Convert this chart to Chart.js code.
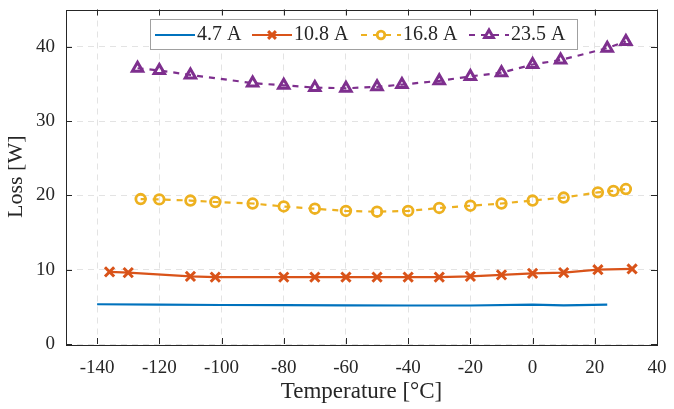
<!DOCTYPE html>
<html>
<head>
<meta charset="utf-8">
<script src="https://cdn.jsdelivr.net/npm/chart.js@4.4.0/dist/chart.umd.min.js"></script>
<style>
  html, body { margin: 0; padding: 0; background: #fff; }
</style>
</head>
<body>
<canvas id="lossChart" width="674" height="409"></canvas>
<script>
const seriesLabels = ['4.7 A', '10.8 A', '16.8 A', '23.5 A'];

const temp47 = [-140, -120, -100, -80, -60, -40, -20, 0, 10, 24];
const loss47 = [5.35, 5.3, 5.25, 5.22, 5.2, 5.18, 5.18, 5.3, 5.2, 5.3];

const temp108 = [-136, -130, -110, -102, -80, -70, -60, -50, -40, -30, -20, -10, 0, 10, 21, 32];
const loss108 = [9.7, 9.6, 9.1, 9.0, 9.0, 9.0, 9.0, 9.0, 9.0, 9.0, 9.1, 9.3, 9.5, 9.6, 10.0, 10.1];

const temp168 = [-126, -120, -110, -102, -90, -80, -70, -60, -50, -40, -30, -20, -10, 0, 10, 21, 26, 30];
const loss168 = [19.5, 19.45, 19.3, 19.1, 18.9, 18.5, 18.2, 17.9, 17.8, 17.9, 18.3, 18.6, 18.9, 19.3, 19.7, 20.4, 20.6, 20.85];

const temp235 = [-127, -120, -110, -90, -80, -70, -60, -50, -42, -30, -20, -10, 0, 9, 24, 30];
const loss235 = [37.1, 36.8, 36.2, 35.1, 34.8, 34.5, 34.4, 34.6, 34.9, 35.4, 36.0, 36.5, 37.6, 38.2, 39.8, 40.7];

const xTicks = [-140, -120, -100, -80, -60, -40, -20, 0, 20, 40];
const yTicks = [0, 10, 20, 30, 40];

const colors = ['#0072BD', '#D95319', '#EDB120', '#7E2F8E'];
const serif = "'Liberation Serif', 'DejaVu Serif', serif";
const axisColor = '#262626';

function toPoints(xs, ys) {
    return xs.map((x, i) => ({ x: x, y: ys[i] }));
}

// MATLAB-style box with inward ticks
const boxPlugin = {
    id: 'boxTicks',
    afterDatasetsDraw(chart) {
        const ctx = chart.ctx;
        const a = chart.chartArea;
        const xs = chart.scales.x, ys = chart.scales.y;
        const len = 6;
        ctx.save();
        ctx.strokeStyle = axisColor;
        ctx.lineWidth = 1;
        ctx.beginPath();
        xTicks.forEach(v => {
            const px = Math.round(xs.getPixelForValue(v)) + 0.5;
            ctx.moveTo(px, a.bottom); ctx.lineTo(px, a.bottom - len);
            ctx.moveTo(px, a.top); ctx.lineTo(px, a.top + len);
        });
        yTicks.forEach(v => {
            const py = Math.round(ys.getPixelForValue(v)) + 0.5;
            ctx.moveTo(a.left, py); ctx.lineTo(a.left + len, py);
            ctx.moveTo(a.right, py); ctx.lineTo(a.right - len, py);
        });
        ctx.stroke();
        ctx.strokeRect(Math.round(a.left) + 0.5, Math.round(a.top) + 0.5,
            Math.round(a.right - a.left), Math.round(a.bottom - a.top));
        ctx.restore();
    }
};

// legend drawn as line + marker samples, like MATLAB
const legendPlugin = {
    id: 'lineLegend',
    afterDraw(chart) {
        const ctx = chart.ctx;
        const box = { x: 150, y: 19, w: 427, h: 30 };
        ctx.save();
        ctx.fillStyle = '#fff';
        ctx.fillRect(box.x, box.y, box.w, box.h);
        ctx.strokeStyle = '#a0a0a0';
        ctx.lineWidth = 1;
        ctx.strokeRect(box.x + 0.5, box.y + 0.5, box.w, box.h);
        ctx.font = '20px ' + serif;
        ctx.textBaseline = 'middle';
        const cy = box.y + box.h / 2 + 1;
        const starts = [155, 252, 361, 469];
        chart.data.datasets.forEach((ds, i) => {
            const x0 = starts[i];
            ctx.strokeStyle = ds.borderColor;
            ctx.lineWidth = 2.2;
            ctx.setLineDash(ds.borderDash || []);
            ctx.beginPath();
            ctx.moveTo(x0, cy); ctx.lineTo(x0 + 40, cy);
            ctx.stroke();
            ctx.setLineDash([]);
            if (ds.pointRadius > 0) {
                ctx.fillStyle = '#fff';
                ctx.strokeStyle = ds.borderColor;
                ctx.lineWidth = ds.pointBorderWidth;
                Chart.helpers.drawPoint(ctx, {
                    pointStyle: ds.pointStyle, radius: ds.pointRadius - 1,
                    rotation: 0, borderWidth: ds.pointBorderWidth
                }, x0 + 20, cy);
            }
            ctx.fillStyle = axisColor;
            ctx.fillText(ds.label, x0 + 42, cy);
        });
        ctx.restore();
    }
};

new Chart(document.getElementById('lossChart'), {
    type: 'line',
    data: {
        datasets: [
            {
                label: seriesLabels[0],
                data: toPoints(temp47, loss47),
                borderColor: colors[0],
                borderWidth: 2.2,
                pointRadius: 0
            },
            {
                label: seriesLabels[1],
                data: toPoints(temp108, loss108),
                borderColor: colors[1],
                borderWidth: 2.2,
                pointStyle: 'crossRot',
                pointRadius: 6.5,
                pointBorderWidth: 3,
                pointBorderColor: colors[1]
            },
            {
                label: seriesLabels[2],
                data: toPoints(temp168, loss168),
                borderColor: colors[2],
                borderWidth: 2.2,
                borderDash: [6, 6],
                pointStyle: 'circle',
                pointRadius: 4.8,
                pointBorderWidth: 2.8,
                pointBorderColor: colors[2],
                pointBackgroundColor: 'rgba(0,0,0,0)'
            },
            {
                label: seriesLabels[3],
                data: toPoints(temp235, loss235),
                borderColor: colors[3],
                borderWidth: 2.2,
                borderDash: [6, 6],
                pointStyle: 'triangle',
                pointRadius: 6,
                pointBorderWidth: 3,
                pointBorderColor: colors[3],
                pointBackgroundColor: 'rgba(0,0,0,0)'
            }
        ]
    },
    options: {
        responsive: false,
        animation: false,
        devicePixelRatio: 1,
        layout: { padding: { left: 0, right: 17, top: 7, bottom: 0 } },
        plugins: {
            legend: { display: false },
            tooltip: { enabled: false }
        },
        scales: {
            x: {
                type: 'linear',
                min: -150,
                max: 40,
                afterBuildTicks: s => { s.ticks = xTicks.map(v => ({ value: v })); },
                afterFit: s => { s.height = 65; s.paddingLeft = 0; s.paddingRight = 0; },
                grid: { color: '#e3e3e3', lineWidth: 1, drawTicks: false },
                border: { display: false, dash: [6, 5] },
                ticks: {
                    padding: 13,
                    color: axisColor,
                    font: { family: serif, size: 19 },
                    maxRotation: 0,
                    callback: v => String(v)
                },
                title: {
                    display: true,
                    text: 'Temperature [°C]',
                    color: axisColor,
                    font: { family: serif, size: 23 },
                    padding: { top: 0, bottom: 3 }
                }
            },
            y: {
                min: 0,
                max: 45,
                afterBuildTicks: s => { s.ticks = yTicks.map(v => ({ value: v })); },
                afterFit: s => { s.width = 66; s.paddingTop = 0; s.paddingBottom = 0; },
                grid: { color: '#e3e3e3', lineWidth: 1, drawTicks: false },
                border: { display: false, dash: [6, 5] },
                ticks: {
                    padding: 11,
                    color: axisColor,
                    font: { family: serif, size: 19 },
                    callback: v => String(v)
                },
                title: {
                    display: true,
                    text: 'Loss [W]',
                    color: axisColor,
                    font: { family: serif, size: 22 },
                    padding: { top: 3, bottom: 0 }
                }
            }
        }
    },
    plugins: [boxPlugin, legendPlugin]
});
</script>
</body>
</html>
